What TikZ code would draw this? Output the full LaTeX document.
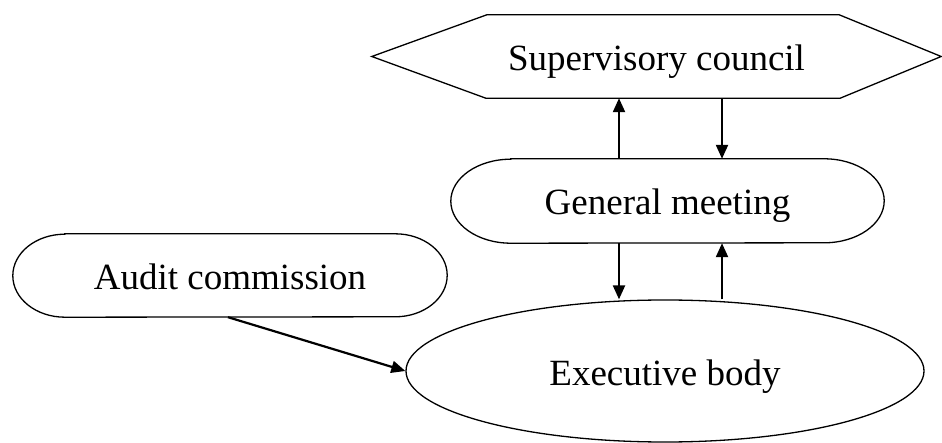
\documentclass[tikz,border=0pt]{standalone}
\usepackage{fontspec}
\setmainfont{Liberation Serif}
\usetikzlibrary{arrows.meta,shapes.geometric}
\tikzset{
  x=1pt, y=-1pt,
  lbl/.style={draw=none, inner sep=0pt, font=\fontsize{37}{44}\selectfont,
    text height=30pt, text depth=2pt},
  outline/.style={draw=black, line width=1.3pt, line join=miter},
  arr/.style={draw=black, line width=2.2pt, -{Triangle[length=14pt,width=12pt]}},
}
\begin{document}
\begin{tikzpicture}
\useasboundingbox (0,0) rectangle (942,443);
\fill[white] (0,0) rectangle (942,443);
% nodes
\node[lbl, minimum width=569pt, minimum height=83pt] (sc) at (656.5,56.5) {Supervisory council};
\node[lbl, minimum width=433pt, minimum height=84pt] (gm) at (667.5,201) {General meeting};
\node[lbl, minimum width=434pt, minimum height=83pt] (ac) at (230,275.5) {Audit commission};
\node[lbl, draw=black, line width=1.3pt, ellipse, minimum width=518pt, minimum height=142pt] (eb) at (665,371) {Executive body};
% outlines
\draw[outline] (sc.west) -- ([xshift=115pt]sc.north west) -- ([xshift=-102pt]sc.north east)
  -- (sc.east) -- ([xshift=-101pt]sc.south east) -- ([xshift=114pt]sc.south west) -- cycle;
\draw[outline] ([xshift=60pt]gm.north west) -- ([xshift=-60pt]gm.north east)
  arc[start angle=-90, end angle=90, x radius=60, y radius=42]
  -- ([xshift=60pt]gm.south west)
  arc[start angle=90, end angle=270, x radius=60, y radius=42] -- cycle;
\draw[outline] ([xshift=52pt]ac.north west) -- ([xshift=-52pt]ac.north east)
  arc[start angle=-90, end angle=90, x radius=52, y radius=41.5]
  -- ([xshift=52pt]ac.south west)
  arc[start angle=90, end angle=270, x radius=52, y radius=41.5] -- cycle;
% connector columns
\coordinate (cl) at (619,0);
\coordinate (cr) at (722,0);
\draw[arr] (gm.north -| cl) -- (sc.south -| cl);
\draw[arr] (sc.south -| cr) -- (gm.north -| cr);
\draw[arr] (gm.south -| cl) -- (eb.north -| cl);
\draw[arr] (eb.north -| cr) -- (gm.south -| cr);
\draw[arr] ([xshift=-2pt]ac.south) -- (eb.west);
\end{tikzpicture}
\end{document}
